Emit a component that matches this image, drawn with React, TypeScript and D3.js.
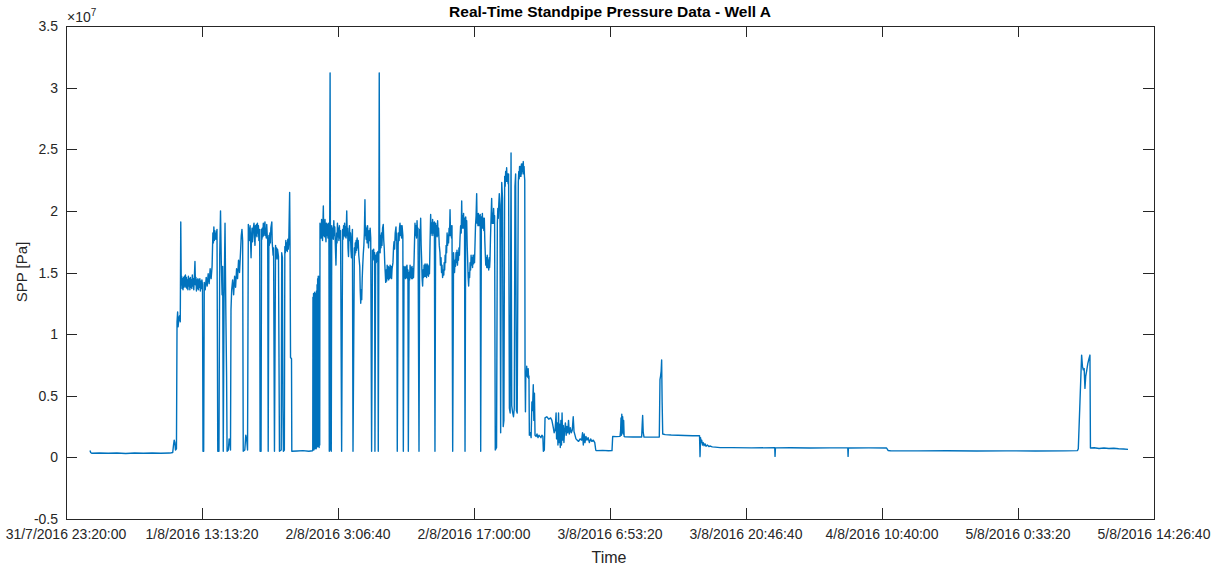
import React from "react";
import * as d3 from "d3";

// Standpipe pressure log, Well A. Each sample: [hours since 31/7/2016 23:20:00, SPP in units of 1e7 Pa]
type Sample = [number, number];

const startTime = new Date(2016, 6, 31, 23, 20, 0);
const endTime = new Date(2016, 7, 5, 14, 26, 40);

const xTickStamps = [
  "2016-07-31T23:20:00",
  "2016-08-01T13:13:20",
  "2016-08-02T03:06:40",
  "2016-08-02T17:00:00",
  "2016-08-03T06:53:20",
  "2016-08-03T20:46:40",
  "2016-08-04T10:40:00",
  "2016-08-05T00:33:20",
  "2016-08-05T14:26:40",
];
const yTicks = [-0.5, 0, 0.5, 1, 1.5, 2, 2.5, 3, 3.5];

const idleBefore: Sample[] = [
  [2.45, 0.055], [2.52, 0.04], [2.62, 0.034], [3.4, 0.036], [4.3, 0.033], [5.2, 0.035], [6.1, 0.032],
  [7.0, 0.035], [7.9, 0.033], [8.8, 0.036], [9.7, 0.034], [10.6, 0.035], [10.9, 0.04], [10.98, 0.1],
  [11.05, 0.14], [11.12, 0.12], [11.18, 0.06], [11.28, 0.07],
];

const drillingRun1: Sample[] = [
  [11.34, 1.1], [11.4, 1.18], [11.45, 1.06], [11.52, 1.13], [11.6, 1.15], [11.67, 1.1], [11.72, 1.91], [11.77, 1.4],
  [11.81, 1.47], [11.85, 1.37], [11.9, 1.45], [11.95, 1.36], [12.0, 1.46], [12.05, 1.38], [12.1, 1.47], [12.15, 1.39],
  [12.2, 1.48], [12.25, 1.38], [12.3, 1.46], [12.35, 1.37], [12.4, 1.44], [12.45, 1.36], [12.5, 1.47], [12.55, 1.39],
  [12.6, 1.45], [12.65, 1.36], [12.7, 1.46], [12.75, 1.38], [12.8, 1.44], [12.85, 1.37], [12.9, 1.48], [12.95, 1.39],
  [13.0, 1.45], [13.05, 1.36], [13.1, 1.44], [13.17, 1.59], [13.22, 1.4], [13.27, 1.46], [13.32, 1.35], [13.37, 1.44],
  [13.42, 1.37], [13.47, 1.45], [13.52, 1.36], [13.57, 1.44], [13.62, 1.38], [13.67, 1.45], [13.72, 1.35], [13.77, 1.43],
  [13.82, 1.37], [13.88, 1.44], [13.94, 1.4], [13.99, 0.05],
  [14.06, 0.05], [14.12, 1.42], [14.22, 1.36], [14.32, 1.46], [14.42, 1.39], [14.52, 1.49], [14.62, 1.41], [14.72, 1.53],
  [14.82, 1.45], [14.92, 1.55], [15.0, 1.82], [15.05, 1.74], [15.1, 1.87], [15.15, 1.76], [15.2, 1.84], [15.3, 1.77],
  [15.42, 1.85], [15.5, 0.05],
  [15.62, 0.05], [15.7, 1.65], [15.78, 2.0], [15.86, 1.58], [15.94, 1.32], [16.0, 1.55], [16.06, 0.05], [16.14, 1.25],
  [16.24, 1.9], [16.32, 1.2], [16.4, 0.66], [16.45, 0.05], [16.58, 0.06], [16.66, 0.15], [16.74, 0.12], [16.8, 0.06],
  [16.85, 1.2], [16.92, 1.36], [17.02, 1.44], [17.12, 1.32], [17.22, 1.47], [17.32, 1.38], [17.42, 1.53], [17.52, 1.45],
  [17.62, 1.6], [17.72, 1.5], [17.82, 1.66], [17.9, 1.8], [17.97, 1.85], [18.04, 1.76], [18.1, 0.05], [18.26, 0.06],
  [18.36, 0.18], [18.46, 0.14], [18.54, 0.06], [18.62, 1.89], [18.66, 1.78], [18.7, 1.86], [18.75, 1.76], [18.8, 1.88],
  [18.9, 1.62], [18.95, 1.8], [19.0, 1.86], [19.05, 1.75], [19.1, 1.84], [19.2, 1.9], [19.25, 1.78], [19.3, 1.72],
  [19.35, 1.88], [19.4, 1.8], [19.45, 1.89], [19.5, 1.79], [19.55, 1.9], [19.6, 1.82], [19.65, 1.88], [19.7, 1.76],
  [19.78, 1.85], [19.82, 0.05], [19.92, 0.05], [19.97, 1.85], [20.01, 1.77], [20.05, 1.86], [20.1, 1.79], [20.15, 1.9],
  [20.2, 1.8], [20.25, 1.87], [20.32, 1.91], [20.36, 1.8], [20.4, 1.86], [20.45, 1.78], [20.5, 1.89], [20.55, 1.8],
  [20.6, 1.76], [20.65, 0.05], [20.72, 1.8], [20.77, 1.72], [20.82, 1.82], [20.87, 1.74], [20.92, 1.86], [21.02, 1.91],
  [21.06, 1.74], [21.1, 1.7], [21.15, 1.64], [21.2, 1.7], [21.29, 0.05], [21.4, 1.72], [21.45, 1.62], [21.5, 1.7],
  [21.55, 1.61], [21.6, 1.69], [21.7, 1.63], [21.8, 0.05], [21.98, 0.06], [22.03, 1.66], [22.1, 1.62], [22.15, 0.41],
  [22.2, 0.05], [22.3, 0.06], [22.35, 1.71], [22.4, 1.66], [22.45, 1.76], [22.5, 1.68], [22.55, 1.74], [22.6, 1.67],
  [22.65, 1.77], [22.7, 1.69], [22.75, 1.74], [22.84, 2.15], [22.88, 1.74], [22.93, 0.81], [23.03, 0.8], [23.06, 0.05],
  [23.6, 0.052], [24.2, 0.055], [24.8, 0.05], [25.18, 0.054],
];

const drillingRun2: Sample[] = [
  [25.2, 0.07], [25.22, 1.3], [25.25, 0.08], [25.28, 1.33], [25.31, 0.06], [25.34, 1.31], [25.37, 0.08], [25.4, 1.34],
  [25.43, 0.07], [25.46, 1.32], [25.49, 0.09], [25.52, 1.33], [25.55, 0.07], [25.58, 1.35], [25.61, 0.08], [25.64, 1.4],
  [25.67, 0.1], [25.7, 1.45], [25.73, 0.09], [25.76, 1.47], [25.79, 0.12], [25.82, 1.46], [25.85, 0.08], [25.88, 1.47],
  [25.91, 0.1], [25.94, 1.9], [25.98, 1.8], [26.02, 1.88], [26.06, 1.78], [26.1, 1.93], [26.15, 1.82], [26.2, 1.76],
  [26.28, 2.04], [26.32, 1.8], [26.36, 1.9], [26.4, 1.79], [26.45, 1.93], [26.5, 1.82], [26.55, 1.75], [26.6, 1.9],
  [26.65, 1.8], [26.7, 1.89], [26.75, 1.78], [26.8, 1.9], [26.85, 1.84], [26.89, 0.05], [26.93, 1.85], [26.97, 3.12],
  [27.0, 1.9], [27.02, 0.06], [27.06, 1.8], [27.09, 0.05], [27.14, 1.88], [27.2, 1.78], [27.25, 1.86], [27.3, 1.77],
  [27.35, 1.92], [27.4, 1.8], [27.45, 1.87], [27.5, 1.74], [27.57, 1.56], [27.64, 1.82], [27.68, 1.74], [27.72, 1.9],
  [27.77, 1.79], [27.82, 1.86], [27.87, 1.76], [27.92, 1.88], [27.98, 1.78], [28.04, 1.84], [28.15, 0.05], [28.25, 1.85],
  [28.3, 1.77], [28.35, 1.88], [28.4, 1.8], [28.45, 1.9], [28.5, 1.79], [28.55, 1.87], [28.6, 1.78], [28.67, 2.0],
  [28.72, 1.8], [28.76, 1.86], [28.8, 1.7], [28.85, 1.63], [28.9, 1.8], [28.95, 1.88], [29.0, 1.76], [29.05, 1.82],
  [29.1, 1.68], [29.15, 1.62], [29.2, 1.78], [29.25, 1.85], [29.31, 0.05], [29.45, 1.7], [29.5, 1.64], [29.54, 1.74],
  [29.58, 1.66], [29.63, 1.76], [29.68, 1.68], [29.73, 1.78], [29.79, 1.7], [29.84, 1.76], [29.9, 1.64], [30.0, 1.55],
  [30.05, 1.35], [30.1, 1.25], [30.15, 1.36], [30.2, 1.28], [30.25, 1.45], [30.3, 1.55], [30.36, 1.65], [30.42, 1.72],
  [30.47, 1.82], [30.53, 2.09], [30.57, 1.8], [30.6, 1.88], [30.65, 1.77], [30.7, 1.86], [30.75, 1.74], [30.8, 1.88],
  [30.85, 1.76], [30.9, 1.7], [30.95, 1.84], [31.0, 1.76], [31.06, 1.86], [31.12, 1.78], [31.21, 0.05], [31.3, 1.68],
  [31.36, 1.61], [31.42, 1.69], [31.47, 1.6], [31.52, 1.66], [31.55, 0.05], [31.62, 1.64], [31.68, 1.58], [31.75, 1.66],
  [31.8, 1.59], [31.85, 1.67], [31.89, 0.05], [31.95, 1.68], [31.99, 3.12], [32.03, 1.72], [32.08, 1.66], [32.12, 1.8],
  [32.17, 1.7], [32.22, 1.82], [32.27, 1.72], [32.33, 1.86], [32.4, 1.89], [32.45, 1.76], [32.5, 1.7], [32.55, 1.58],
  [32.6, 1.5], [32.65, 1.42], [32.7, 1.52], [32.75, 1.43], [32.8, 1.56], [32.85, 1.45], [32.9, 1.55], [32.95, 1.44],
  [33.0, 1.54], [33.05, 1.45], [33.1, 1.56], [33.15, 1.46], [33.2, 1.55], [33.25, 1.45], [33.3, 1.53], [33.39, 1.58],
  [33.45, 1.7], [33.5, 1.75], [33.56, 1.69], [33.62, 1.82], [33.7, 1.87], [33.74, 1.76], [33.78, 1.82], [33.83, 0.05],
  [33.92, 1.72], [33.97, 1.82], [34.02, 1.76], [34.06, 1.86], [34.11, 1.9], [34.16, 1.8], [34.22, 1.88], [34.27, 1.78],
  [34.32, 1.88], [34.4, 1.8], [34.45, 0.05], [34.52, 1.55], [34.57, 1.46], [34.62, 1.54], [34.67, 1.45], [34.72, 1.55],
  [34.77, 1.46], [34.82, 1.56], [34.88, 1.45], [34.92, 1.52], [34.96, 0.05], [35.04, 1.5], [35.09, 1.44], [35.14, 1.56],
  [35.19, 1.46], [35.24, 1.54], [35.29, 1.45], [35.34, 1.55], [35.39, 1.45], [35.44, 1.53], [35.49, 1.46], [35.54, 1.58],
];

const drillingRun3: Sample[] = [
  [35.64, 1.9], [35.7, 1.8], [35.75, 1.88], [35.8, 1.78], [35.85, 1.92], [35.9, 1.8], [35.95, 1.86], [36.05, 0.05],
  [36.12, 1.85], [36.17, 1.78], [36.22, 1.94], [36.27, 1.72], [36.32, 1.6], [36.37, 1.45], [36.42, 1.39], [36.47, 1.52],
  [36.52, 1.46], [36.57, 1.56], [36.62, 1.47], [36.67, 1.57], [36.72, 1.47], [36.77, 1.56], [36.82, 1.46], [36.87, 1.57],
  [36.92, 1.48], [36.97, 1.56], [37.02, 1.47], [37.07, 1.55], [37.12, 1.49], [37.18, 1.75], [37.24, 1.97], [37.29, 1.82],
  [37.34, 1.9], [37.39, 1.8], [37.44, 1.93], [37.49, 1.82], [37.54, 1.9], [37.58, 1.8], [37.62, 1.91], [37.68, 0.05],
  [37.75, 1.9], [37.8, 1.8], [37.85, 1.88], [37.9, 1.79], [37.95, 1.92], [38.0, 1.8], [38.05, 1.86], [38.12, 1.72],
  [38.19, 1.66], [38.24, 1.56], [38.3, 1.62], [38.35, 1.5], [38.4, 1.56], [38.46, 1.46], [38.53, 1.52], [38.58, 1.48],
  [38.62, 1.58], [38.67, 1.52], [38.72, 1.64], [38.77, 1.58], [38.82, 1.72], [38.87, 1.66], [38.92, 1.82], [38.97, 1.72],
  [39.02, 1.8], [39.07, 1.74], [39.12, 1.86], [39.17, 1.8], [39.22, 2.01], [39.27, 1.8], [39.32, 1.88], [39.37, 1.78],
  [39.42, 1.88], [39.49, 0.05], [39.58, 1.66], [39.63, 1.56], [39.68, 1.5], [39.73, 1.6], [39.78, 1.55], [39.83, 1.66],
  [39.88, 1.58], [39.93, 1.68], [39.98, 1.56], [40.03, 1.66], [40.08, 1.6], [40.13, 1.7], [40.18, 1.64], [40.24, 1.78],
  [40.3, 1.88], [40.36, 1.82], [40.41, 2.08], [40.45, 1.86], [40.5, 1.96], [40.55, 1.86], [40.6, 1.98], [40.65, 1.86],
  [40.7, 1.94], [40.75, 0.05], [40.82, 1.95], [40.87, 1.84], [40.92, 1.92], [40.97, 1.72], [41.02, 1.6], [41.07, 1.46],
  [41.12, 1.39], [41.17, 1.5], [41.22, 1.46], [41.27, 1.58], [41.32, 1.52], [41.37, 1.64], [41.42, 1.56], [41.47, 1.62],
  [41.52, 1.54], [41.57, 1.64], [41.62, 1.57], [41.67, 1.64], [41.72, 1.58], [41.78, 1.76], [41.82, 1.88], [41.88, 1.96],
  [41.94, 2.14], [41.98, 1.9], [42.02, 1.98], [42.07, 1.88], [42.12, 1.98], [42.17, 1.88], [42.22, 1.96], [42.26, 1.88],
  [42.3, 1.97], [42.35, 0.05], [42.42, 1.95], [42.47, 1.86], [42.52, 1.98], [42.57, 1.86], [42.62, 1.94], [42.67, 1.84],
  [42.72, 1.94], [42.77, 1.76], [42.82, 1.65], [42.87, 1.56], [42.92, 1.62], [42.97, 1.54], [43.02, 1.64], [43.07, 1.54],
  [43.12, 1.6], [43.17, 1.52], [43.22, 1.62], [43.26, 1.54], [43.3, 1.6], [43.35, 1.78], [43.4, 1.92], [43.47, 2.1],
  [43.52, 1.9], [43.57, 1.98], [43.62, 1.9], [43.67, 2.02], [43.72, 1.9], [43.77, 1.96], [43.84, 0.06], [43.97, 0.08],
  [44.05, 1.9], [44.1, 2.02], [44.15, 1.94], [44.2, 2.06], [44.25, 2.14], [44.32, 2.05], [44.39, 0.2], [44.45, 1.9],
  [44.5, 2.23], [44.58, 2.1], [44.65, 0.25], [44.72, 0.3], [44.8, 2.28], [44.85, 2.2], [44.9, 2.32], [44.95, 2.24],
  [45.0, 2.35], [45.05, 2.24], [45.1, 2.3], [45.15, 2.22], [45.2, 2.3], [45.28, 0.4], [45.36, 0.36], [45.45, 2.47],
  [45.52, 0.42], [45.6, 0.37], [45.7, 0.33], [45.78, 0.4], [45.85, 2.2], [45.92, 2.3], [46.0, 0.38], [46.08, 0.36],
  [46.19, 2.23], [46.24, 2.32], [46.28, 2.26], [46.32, 2.36], [46.36, 2.28], [46.41, 2.36], [46.46, 2.28], [46.51, 2.38],
  [46.56, 2.3], [46.6, 2.38], [46.65, 2.32], [46.7, 2.4], [46.74, 2.3], [46.78, 2.36], [46.82, 2.28], [46.85, 2.25],
];

const tripOut: Sample[] = [
  [46.88, 0.71], [46.92, 0.37], [46.96, 0.7], [47.0, 0.66], [47.05, 0.74], [47.08, 0.66], [47.12, 0.72], [47.16, 0.65],
  [47.2, 0.72], [47.24, 0.64], [47.28, 0.66], [47.32, 0.18], [47.42, 0.2], [47.5, 0.16], [47.58, 0.45], [47.64, 0.38],
  [47.72, 0.59], [47.78, 0.3], [47.84, 0.52], [47.9, 0.18], [48.0, 0.17], [48.1, 0.19], [48.2, 0.16], [48.3, 0.18],
  [48.4, 0.17], [48.5, 0.16], [48.6, 0.18], [48.7, 0.17], [48.75, 0.05], [48.85, 0.06], [48.92, 0.32], [49.1, 0.33],
  [49.3, 0.31], [49.5, 0.32], [49.62, 0.3], [49.77, 0.24], [49.85, 0.2], [49.95, 0.22], [50.05, 0.36], [50.1, 0.15],
  [50.18, 0.28], [50.24, 0.1], [50.3, 0.36], [50.36, 0.12], [50.42, 0.27], [50.48, 0.08], [50.54, 0.3], [50.6, 0.1],
  [50.66, 0.36], [50.72, 0.14], [50.78, 0.26], [50.85, 0.12], [50.92, 0.22], [51.0, 0.28], [51.08, 0.18], [51.16, 0.25],
  [51.24, 0.2], [51.32, 0.3], [51.4, 0.19], [51.5, 0.24], [51.6, 0.2], [51.7, 0.22], [51.8, 0.33], [51.88, 0.21],
  [51.98, 0.18], [52.08, 0.15], [52.2, 0.14], [52.35, 0.13], [52.5, 0.15], [52.66, 0.14], [52.75, 0.2], [52.83, 0.1],
  [52.92, 0.19], [53.0, 0.12], [53.1, 0.17], [53.2, 0.14], [53.32, 0.16], [53.45, 0.12], [53.58, 0.15], [53.7, 0.13],
  [53.85, 0.14], [54.0, 0.12], [54.1, 0.06], [54.15, 0.055], [54.8, 0.057], [55.4, 0.054], [55.76, 0.055], [55.83, 0.17],
  [56.2, 0.168], [56.58, 0.17], [56.64, 0.22], [56.68, 0.32], [56.72, 0.18], [56.76, 0.35], [56.8, 0.2], [56.85, 0.33],
  [56.9, 0.19], [56.95, 0.3], [57.0, 0.17], [57.09, 0.166], [57.9, 0.165], [58.79, 0.165], [58.84, 0.26], [58.89, 0.34],
  [58.95, 0.2], [59.03, 0.165], [59.8, 0.164], [60.59, 0.165], [60.66, 0.63], [60.72, 0.66], [60.78, 0.7], [60.83, 0.79],
  [60.88, 0.45], [60.94, 0.19], [61.2, 0.185], [61.8, 0.182], [62.5, 0.18], [63.2, 0.178], [64.0, 0.176], [64.7, 0.175],
  [64.75, 0.006], [64.8, 0.16], [64.86, 0.12], [64.92, 0.14], [65.0, 0.1], [65.08, 0.12], [65.16, 0.095], [65.26, 0.11],
  [65.36, 0.09], [65.5, 0.1], [65.65, 0.088], [65.8, 0.092], [66.0, 0.085], [66.3, 0.083], [66.8, 0.079],
];

const idleAfter: Sample[] = [
  [68, 0.079], [70, 0.077], [72.38, 0.078], [72.41, 0.008], [72.45, 0.077], [74, 0.078], [76, 0.076], [78, 0.077],
  [79.84, 0.077], [79.87, 0.008], [79.9, 0.076], [82, 0.077], [83.8, 0.076], [83.95, 0.056], [84.2, 0.054], [87, 0.053],
  [90, 0.054], [93, 0.052], [96, 0.053], [99, 0.052], [102, 0.053], [103.3, 0.055],
];

const finalCirculation: Sample[] = [
  [103.38, 0.07], [103.55, 0.45], [103.72, 0.83], [103.8, 0.74], [103.89, 0.71], [103.98, 0.72], [104.06, 0.56],
  [104.14, 0.66], [104.23, 0.7], [104.35, 0.76], [104.47, 0.8], [104.57, 0.83], [104.62, 0.076], [105.0, 0.078],
  [105.5, 0.072], [106.0, 0.076], [106.5, 0.072], [107.0, 0.074], [107.5, 0.07], [108.0, 0.068], [108.46, 0.065],
];

const series: Sample[] = [
  ...idleBefore,
  ...drillingRun1,
  ...drillingRun2,
  ...drillingRun3,
  ...tripOut,
  ...idleAfter,
  ...finalCirculation,
];

const W = 1213;
const H = 565;
const M = { left: 66, right: 1154, top: 26, bottom: 519 };
const AX = "#262626";
const FONT = "'Liberation Sans', Arial, Helvetica, sans-serif";
const TICK = 11;

const pad = (n: number) => String(n).padStart(2, "0");
const fmtTime = (d: Date) =>
  `${d.getDate()}/${d.getMonth() + 1}/${d.getFullYear()} ${d.getHours()}:${pad(d.getMinutes())}:${pad(d.getSeconds())}`;
const fmtY = (v: number) => String(v);

export default function App() {
  const x = d3.scaleTime().domain([startTime, endTime]).range([M.left, M.right]);
  const y = d3.scaleLinear().domain([-0.5, 3.5]).range([M.bottom, M.top]);
  const toDate = (h: number) => new Date(startTime.getTime() + h * 3600 * 1000);

  const line = d3
    .line<Sample>()
    .x((d) => x(toDate(d[0])))
    .y((d) => y(d[1]));

  const xTicks = xTickStamps.map((s) => new Date(s));

  return (
    <svg
      width={W}
      height={H}
      style={{ position: "absolute", left: 0, top: 0, background: "#fff" }}
      fontFamily={FONT}
    >
      <rect x={0} y={0} width={W} height={H} fill="#fff" />
      <path
        d={line(series) || ""}
        fill="none"
        stroke="#0072BD"
        strokeWidth={1.4}
        strokeLinejoin="round"
      />
      {/* axes box */}
      <rect
        x={M.left + 0.5}
        y={M.top + 0.5}
        width={M.right - M.left}
        height={M.bottom - M.top}
        fill="none"
        stroke={AX}
        strokeWidth={1}
        shapeRendering="crispEdges"
      />
      {xTicks.map((t, i) => {
        const px = Math.round(x(t)) + 0.5;
        return (
          <g key={"xt" + i}>
            <line x1={px} x2={px} y1={M.bottom} y2={M.bottom - TICK} stroke={AX} shapeRendering="crispEdges" />
            <line x1={px} x2={px} y1={M.top} y2={M.top + TICK} stroke={AX} shapeRendering="crispEdges" />
            <text x={x(t)} y={M.bottom + 20} textAnchor="middle" fontSize={14} fill={AX}>
              {fmtTime(t)}
            </text>
          </g>
        );
      })}
      {yTicks.map((v, i) => {
        const py = Math.round(y(v)) + 0.5;
        return (
          <g key={"yt" + i}>
            <line x1={M.left} x2={M.left + TICK} y1={py} y2={py} stroke={AX} shapeRendering="crispEdges" />
            <line x1={M.right} x2={M.right - TICK} y1={py} y2={py} stroke={AX} shapeRendering="crispEdges" />
            <text x={M.left - 8} y={y(v) + 5} textAnchor="end" fontSize={14} fill={AX}>
              {fmtY(v)}
            </text>
          </g>
        );
      })}
      <text x={M.left + 1} y={22} fontSize={14} fill={AX}>
        <tspan>×10</tspan>
        <tspan fontSize={10} dy={-6}>7</tspan>
      </text>
      <text x={610} y={17} textAnchor="middle" fontSize={15.5} fontWeight="bold" fill="#000">
        Real-Time Standpipe Pressure Data - Well A
      </text>
      <text x={609} y={563} textAnchor="middle" fontSize={16} fill={AX}>
        Time
      </text>
      <text transform={`translate(27,272) rotate(-90)`} textAnchor="middle" fontSize={15} fill={AX}>
        SPP [Pa]
      </text>
    </svg>
  );
}
